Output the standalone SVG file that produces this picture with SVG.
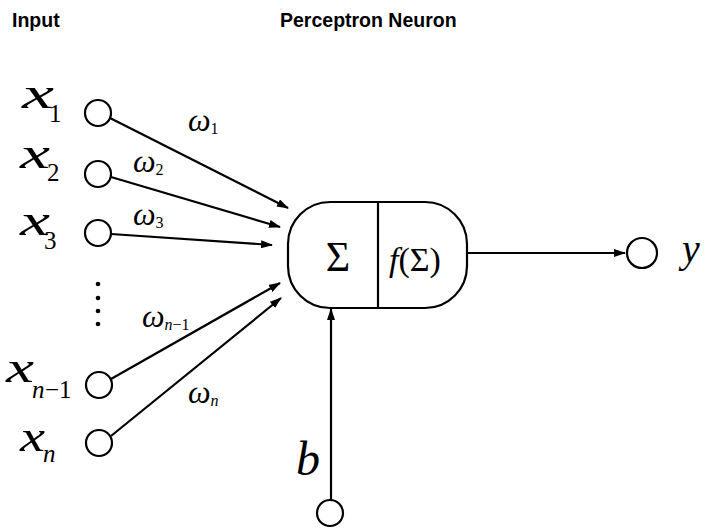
<svg xmlns="http://www.w3.org/2000/svg" width="705" height="530" viewBox="0 0 705 530">
<style>
.title{font-family:'Liberation Sans',Arial,sans-serif;font-weight:bold;font-size:19.5px;fill:#000}
.var{font-family:'Liberation Serif','DejaVu Serif',serif;font-style:italic;fill:#000}
.num{font-family:'Liberation Serif','DejaVu Serif',serif;font-style:normal;fill:#000}
.node{fill:#fff;stroke:#000;stroke-width:2.2}
.edge{stroke:#000;stroke-width:2.2;fill:none}
</style>
<defs>
<marker id="arr" viewBox="0 0 12 8" refX="11" refY="4" markerWidth="12" markerHeight="8" markerUnits="userSpaceOnUse" orient="auto">
<path d="M0,0 L12,4 L0,8 Z" fill="#000"/>
</marker>
</defs>
<rect width="705" height="530" fill="#fff"/>
<text class="title" x="12" y="27">Input</text>
<text class="title" x="280" y="27">Perceptron Neuron</text>

<g id="connectors">
<line class="edge" x1="110" y1="118" x2="288" y2="208" marker-end="url(#arr)"/>
<line class="edge" x1="111" y1="177" x2="280" y2="227" marker-end="url(#arr)"/>
<line class="edge" x1="111" y1="234" x2="272" y2="245" marker-end="url(#arr)"/>
<line class="edge" x1="111" y1="379" x2="280" y2="283" marker-end="url(#arr)"/>
<line class="edge" x1="111" y1="436" x2="281" y2="298" marker-end="url(#arr)"/>
<line class="edge" x1="467" y1="253" x2="625" y2="253" marker-end="url(#arr)"/>
<line class="edge" x1="331" y1="500" x2="331" y2="309" marker-end="url(#arr)"/>
</g>

<g id="x1">
<circle class="node" cx="98" cy="113" r="13"/>
<text class="var" font-family="'Liberation Serif', serif" x="22" y="108" font-size="44" textLength="32" lengthAdjust="spacingAndGlyphs">x</text>
<text class="num" font-family="'Liberation Serif', serif" x="49" y="122" font-size="25">1</text>
</g>
<g id="x2">
<circle class="node" cx="98" cy="174" r="13"/>
<text class="var" font-family="'Liberation Serif', serif" x="20" y="168" font-size="44" textLength="30" lengthAdjust="spacingAndGlyphs">x</text>
<text class="num" font-family="'Liberation Serif', serif" x="47" y="181" font-size="25">2</text>
</g>
<g id="x3">
<circle class="node" cx="98" cy="233" r="13"/>
<text class="var" font-family="'Liberation Serif', serif" x="20" y="235" font-size="44" textLength="30" lengthAdjust="spacingAndGlyphs">x</text>
<text class="num" font-family="'Liberation Serif', serif" x="44" y="249" font-size="25">3</text>
</g>
<g id="dots">
<circle cx="98" cy="284" r="2.3" fill="#000"/>
<circle cx="98" cy="298" r="2.3" fill="#000"/>
<circle cx="98" cy="311" r="2.3" fill="#000"/>
<circle cx="98" cy="324" r="2.3" fill="#000"/>
</g>
<g id="xn-1">
<circle class="node" cx="99" cy="385" r="13"/>
<text class="var" font-family="'Liberation Serif', serif" x="6" y="382" font-size="44" textLength="28" lengthAdjust="spacingAndGlyphs">x</text>
<text class="var" font-family="'Liberation Serif', serif" x="32" y="398" font-size="25">n</text>
<text class="num" font-family="'Liberation Serif', serif" x="45" y="398" font-size="25">−1</text>
</g>
<g id="xn">
<circle class="node" cx="99" cy="443" r="13"/>
<text class="var" font-family="'Liberation Serif', serif" x="20" y="451" font-size="44" textLength="25" lengthAdjust="spacingAndGlyphs">x</text>
<text class="var" font-family="'Liberation Serif', serif" x="43" y="462" font-size="25">n</text>
</g>

<g id="weights">
<text class="var" font-family="'Liberation Serif', serif" x="188" y="131" font-size="32">ω<tspan class="num" font-size="16" dy="3">1</tspan></text>
<text class="var" font-family="'Liberation Serif', serif" x="133" y="172" font-size="32">ω<tspan class="num" font-size="16" dy="3">2</tspan></text>
<text class="var" font-family="'Liberation Serif', serif" x="133" y="225" font-size="32">ω<tspan class="num" font-size="16" dy="3">3</tspan></text>
<text class="var" font-family="'Liberation Serif', serif" x="142" y="327" font-size="32">ω<tspan font-size="16" dy="3">n</tspan><tspan class="num" font-size="16">−1</tspan></text>
<text class="var" font-family="'Liberation Serif', serif" x="188" y="403" font-size="32">ω<tspan font-size="16" dy="3">n</tspan></text>
</g>

<g id="neuron">
<rect class="node" x="288" y="202" width="179" height="106" rx="42" ry="42"/>
<line class="edge" x1="378" y1="202" x2="378" y2="308"/>
<text class="num" font-family="'Liberation Serif', serif" x="338" y="271" font-size="42" text-anchor="middle">Σ</text>
<text class="var" font-family="'Liberation Serif', serif" x="389" y="271" font-size="34">f<tspan class="num">(Σ)</tspan></text>
</g>

<g id="bias">
<circle class="node" cx="330" cy="513" r="13"/>
<text class="var" font-family="'Liberation Serif', serif" x="296" y="475" font-size="48">b</text>
</g>

<g id="output">
<circle class="node" cx="642" cy="253" r="15"/>
<text class="var" font-family="'Liberation Serif', serif" x="682" y="262" font-size="40">y</text>
</g>
</svg>
